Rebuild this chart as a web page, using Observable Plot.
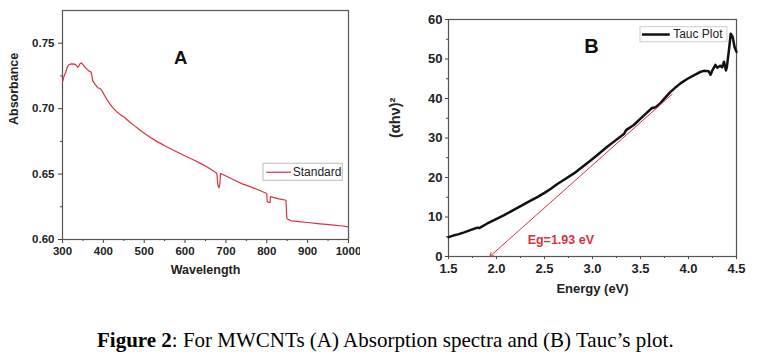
<!DOCTYPE html>
<html><head><meta charset="utf-8">
<script src="https://cdn.jsdelivr.net/npm/d3@7"></script>
<script src="https://cdn.jsdelivr.net/npm/@observablehq/plot@0.6"></script>
<style>
body{margin:0;background:#fff;width:761px;height:360px;position:relative;overflow:hidden}
#a{position:absolute;left:0;top:0}
#b{position:absolute;left:380px;top:0}
#cap{position:absolute;left:97px;top:328px;font-family:"Liberation Serif","Times New Roman",serif;font-size:21px;color:#000;white-space:nowrap}
</style></head><body>
<div id="a"></div><div id="b"></div>
<div id="cap"><b>Figure 2</b>: For MWCNTs (A) Absorption spectra and (B) Tauc’s plot.</div>
<script>
// ---------- Panel A: absorption spectrum ----------
const wavelength = [300,304,308,312,316,322,330,334,337,340,343,347,351,355,360,365,370,372,374,380,386,390,394,398,404,410,416,422,428,434,440,446,452,463,475,487,500,516,533,557,578,598,620,639,656,671,676,678,680,683,685,687,690,700,720,740,761,780,800,801,804,808,809,815,830,847,849,852,859,870,883,900,924,945,965,985,1000];
const absorbance = [.7205,.7250,.7280,.7320,.7337,.7342,.7340,.7332,.7316,.7325,.7345,.7348,.7332,.7316,.7302,.7287,.7280,.7250,.7212,.7185,.7160,.7156,.7148,.7128,.7095,.7063,.7036,.7012,.6992,.6972,.6958,.6945,.6932,.6902,.6872,.6842,.6812,.6778,.6746,.6705,.6672,.6642,.6610,.6580,.6550,.6520,.6510,.6500,.6420,.6395,.6420,.6505,.6500,.6485,.6455,.6425,.6402,.6378,.6352,.6290,.6283,.6283,.6328,.6322,.6310,.6300,.6160,.6155,.6143,.6140,.6135,.6130,.6122,.6116,.6110,.6103,.6097];
const xTicksA = [300,400,500,600,700,800,900,1000];
const xMinorA = [350,450,550,650,750,850,950];
const yTicksA = [0.60,0.65,0.70,0.75];
const yMinorA = [0.625,0.675,0.725];
const seriesA = "Standard";

// ---------- Panel B: Tauc plot ----------
const energy = [1.50,1.55,1.60,1.663,1.72,1.80,1.82,1.90,1.99,2.08,2.18,2.27,2.36,2.43,2.50,2.57,2.63,2.72,2.81,2.90,2.98,3.06,3.15,3.24,3.33,3.35,3.43,3.50,3.57,3.62,3.66,3.71,3.76,3.81,3.86,3.92,3.99,4.06,4.12,4.16,4.21,4.23,4.25,4.28,4.30,4.33,4.35,4.37,4.39,4.40,4.42,4.44,4.46,4.48,4.50];
const tauc = [4.9,5.3,5.6,6.1,6.6,7.3,7.2,8.3,9.4,10.5,11.8,13.0,14.2,15.1,16.1,17.2,18.3,19.7,21.1,22.8,24.3,25.9,27.7,29.4,31.1,32.0,33.3,34.9,36.5,37.6,37.8,38.9,40.3,41.6,42.7,43.9,45.0,45.9,46.7,47.0,46.9,46.0,47.2,48.5,47.8,48.3,47.9,49.3,47.1,48.0,52.0,56.4,55.6,53.0,51.8];
const xTicksB = [1.5,2.0,2.5,3.0,3.5,4.0,4.5];
const xMinorB = [1.75,2.25,2.75,3.25,3.75,4.25];
const yTicksB = [0,10,20,30,40,50,60];
const yMinorB = [5,15,25,35,45,55];
const seriesB = "Tauc Plot";
const eg = 1.93;                 // band gap (x-intercept of the tangent)
const tangentEnd = [3.83, 41.1]; // upper end of the fitted tangent

const RED = "#d9323e";
const FONT = "'Liberation Sans', Arial, Helvetica, sans-serif";

const dataA = wavelength.map((w, i) => ({w, a: absorbance[i]}));
const dataB = energy.map((e, i) => ({e, t: tauc[i]}));

const plotA = Plot.plot({
  width: 360, height: 290,
  marginLeft: 62, marginRight: 12, marginTop: 10, marginBottom: 51,
  x: {domain: [300, 1000]},
  y: {domain: [0.60, 0.775]},
  style: {fontFamily: FONT, fontSize: "11.5px", fontWeight: "bold", color: "#222", background: "transparent"},
  marks: [
    Plot.axisX(xTicksA, {tickSize: 4, tickPadding: 3, tickFormat: d => String(d), label: null, stroke: "#444"}),
    Plot.axisX(xMinorA, {tickSize: 2, tickFormat: () => "", label: null, stroke: "#444"}),
    Plot.axisY(yTicksA, {tickSize: 4, tickPadding: 4, tickFormat: d3.format(".2f"), label: null, stroke: "#444"}),
    Plot.axisY(yMinorA, {tickSize: 2, tickFormat: () => "", label: null, stroke: "#444"}),
    Plot.frame({stroke: "#555", strokeWidth: 1.2}),
    Plot.line(dataA, {x: "w", y: "a", stroke: RED, strokeWidth: 1.2}),
    Plot.text(["A"], {x: 589, y: 0.739, fontSize: 18.5, fontWeight: "bold", fill: "#111"}),
    Plot.rect([0], {x1: 792, x2: 986, y1: 0.6449, y2: 0.6579, fill: "white", stroke: "#bbb"}),
    Plot.ruleY([0.6514], {x1: 800, x2: 861, stroke: RED, strokeWidth: 1.2}),
    Plot.text([seriesA], {x: 863.5, y: 0.6514, textAnchor: "start", fontSize: 12, fontWeight: "normal", fill: "#222"}),
    Plot.text(["Absorbance"], {frameAnchor: "left", dx: -49, rotate: -90, fontSize: 12.5, fontWeight: "bold", fill: "#222"}),
    Plot.text(["Wavelength"], {frameAnchor: "bottom", dy: 34, fontSize: 12.5, fontWeight: "bold", fill: "#222"})
  ]
});
document.getElementById("a").append(plotA);

const plotB = Plot.plot({
  width: 381, height: 310,
  marginLeft: 68, marginRight: 25, marginTop: 19, marginBottom: 54,
  x: {domain: [1.5, 4.5]},
  y: {domain: [0, 60]},
  style: {fontFamily: FONT, fontSize: "13px", fontWeight: "bold", color: "#222", background: "transparent"},
  marks: [
    Plot.axisX(xTicksB, {tickSize: 3, tickPadding: 4.5, tickFormat: d3.format(".1f"), label: null, stroke: "#444"}),
    Plot.axisX(xMinorB, {tickSize: 2, tickFormat: () => "", label: null, stroke: "#444"}),
    Plot.axisY(yTicksB, {tickSize: 3, tickPadding: 3, tickFormat: d => String(d), label: null, stroke: "#444"}),
    Plot.axisY(yMinorB, {tickSize: 2, tickFormat: () => "", label: null, stroke: "#444"}),
    Plot.frame({stroke: "#555", strokeWidth: 1.2}),
    Plot.line(dataB, {x: "e", y: "t", stroke: "#111", strokeWidth: 2.5}),
    Plot.arrow([0], {x1: tangentEnd[0], y1: tangentEnd[1], x2: eg, y2: 0, stroke: RED, strokeWidth: 1, headLength: 6}),
    Plot.text([`Eg=${eg} eV`], {x: 2.67, y: 4.3, fill: RED, fontSize: 12.5, fontWeight: "bold"}),
    Plot.text(["B"], {x: 2.99, y: 53.2, fontSize: 20, fontWeight: "bold", fill: "#111"}),
    Plot.rect([0], {x1: 3.50, x2: 4.405, y1: 54.25, y2: 58.05, fill: "white", stroke: "#ccc"}),
    Plot.ruleY([56.2], {x1: 3.52, x2: 3.81, stroke: "#111", strokeWidth: 2.5}),
    Plot.text([seriesB], {x: 3.84, y: 56.2, textAnchor: "start", fontSize: 12, fontWeight: "normal", fill: "#222"}),
    Plot.text(["(αhν)²"], {frameAnchor: "left", dx: -53, rotate: -90, fontSize: 14.5, fontWeight: "bold", fill: "#222"}),
    Plot.text(["Energy (eV)"], {frameAnchor: "bottom", dy: 36, fontSize: 13, fontWeight: "bold", fill: "#222"})
  ]
});
document.getElementById("b").append(plotB);
</script>
</body></html>
